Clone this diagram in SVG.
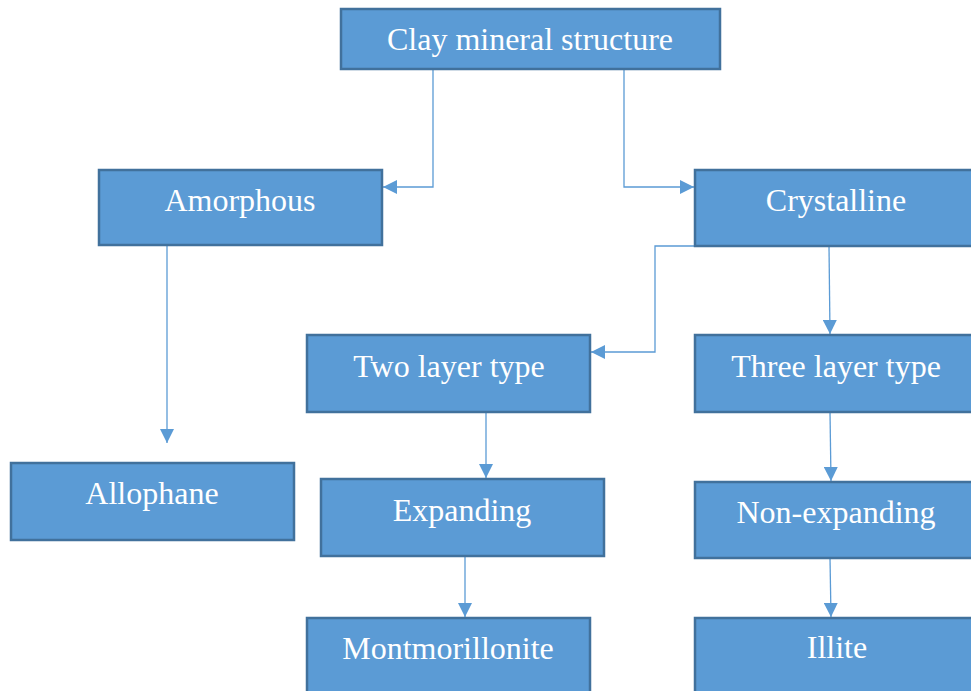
<svg xmlns="http://www.w3.org/2000/svg" width="971" height="691" viewBox="0 0 971 691">
<defs>
<style>
.box{fill:#5b9bd5;stroke:#41719c;stroke-width:2.5}
.lbl{font-family:"Liberation Serif","Times New Roman",serif;font-size:32px;fill:#ffffff;text-anchor:middle}
.con{fill:none;stroke:#5b9bd5;stroke-width:1.3}
</style>
<marker id="ah" viewBox="0 0 10 10" refX="10" refY="5" markerWidth="14" markerHeight="14" markerUnits="userSpaceOnUse" orient="auto">
<path d="M0,0 L10,5 L0,10 z" fill="#5b9bd5"/>
</marker>
</defs>
<rect width="971" height="691" fill="#ffffff"/>
<g id="connectors">
<path class="con" d="M433,69 V187 H383" marker-end="url(#ah)"/>
<path class="con" d="M624,69 V187 H694" marker-end="url(#ah)"/>
<path class="con" d="M167,246 V443" marker-end="url(#ah)"/>
<path class="con" d="M720,246 H655 V352 H591" marker-end="url(#ah)"/>
<path class="con" d="M829,246 L830,334" marker-end="url(#ah)"/>
<path class="con" d="M486,412 V478" marker-end="url(#ah)"/>
<path class="con" d="M465,557 V617" marker-end="url(#ah)"/>
<path class="con" d="M830,412 L831,481" marker-end="url(#ah)"/>
<path class="con" d="M830,558 L831,617" marker-end="url(#ah)"/>
</g>
<g id="clay"><rect class="box" x="341" y="9" width="379" height="60"/><text class="lbl" x="530" y="50">Clay mineral structure</text></g>
<g id="amorphous"><rect class="box" x="99" y="170" width="283" height="75"/><text class="lbl" x="240" y="211">Amorphous</text></g>
<g id="crystalline"><rect class="box" x="695" y="170" width="285" height="76"/><text class="lbl" x="836" y="211">Crystalline</text></g>
<g id="allophane"><rect class="box" x="11" y="463" width="283" height="77"/><text class="lbl" x="152" y="504">Allophane</text></g>
<g id="two-layer"><rect class="box" x="307" y="335" width="283" height="77"/><text class="lbl" x="449" y="377">Two layer type</text></g>
<g id="three-layer"><rect class="box" x="695" y="335" width="285" height="77"/><text class="lbl" x="836" y="377">Three layer type</text></g>
<g id="expanding"><rect class="box" x="321" y="479" width="283" height="77"/><text class="lbl" x="462" y="521">Expanding</text></g>
<g id="non-expanding"><rect class="box" x="695" y="482" width="285" height="76"/><text class="lbl" x="836" y="523">Non-expanding</text></g>
<g id="montmorillonite"><rect class="box" x="307" y="618" width="283" height="80"/><text class="lbl" x="448" y="659">Montmorillonite</text></g>
<g id="illite"><rect class="box" x="695" y="618" width="285" height="80"/><text class="lbl" x="837" y="658">Illite</text></g>
</svg>
